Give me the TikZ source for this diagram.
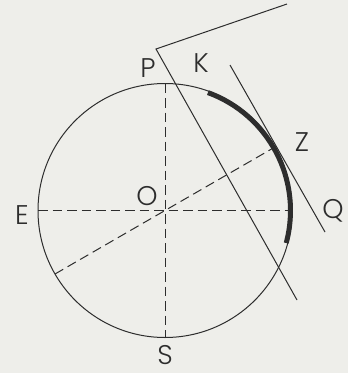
\documentclass[tikz,border=0pt]{standalone}
\usepackage{fontspec}
\setmainfont{Poppins}[UprightFont=* Light]
\definecolor{bg}{RGB}{238,238,234}
\definecolor{ink}{RGB}{45,45,45}
\begin{document}
\begin{tikzpicture}[x=1pt,y=-1pt,
  thinline/.style={draw=ink,line width=1pt},
  dashline/.style={draw=ink,line width=1pt,dash pattern=on 9.5pt off 5pt},
  thickarc/.style={draw=ink,line width=5pt},
  lbl/.style={text=ink,font=\fontsize{27}{27}\selectfont,inner sep=0pt,anchor=center}]
\fill[bg] (0,0) rectangle (348,373);
\useasboundingbox (0,0) rectangle (348,373);
% key points
\coordinate (O) at (165,210.5);
\coordinate (Eend) at (38,210.5);
\coordinate (Rend) at (292,210.5);
\coordinate (Tend) at (165,83.5);
\coordinate (Bend) at (165,337.5);
\coordinate (D1) at (55,274);
\coordinate (D2) at (275,147);
\coordinate (Pc) at (156,49);
\coordinate (Pu) at (287,4);
\coordinate (Pd) at (297,300);
\coordinate (Ta) at (230,65);
\coordinate (Tb) at (325,232);
\coordinate (A1) at (207.9,92.6);
% circle
\draw[thinline] (O) circle[radius=127];
% dashed diameters
\draw[dashline] (Eend) -- (Rend);
\draw[dashline] (Tend) -- (Bend);
\draw[dashline] (D1) -- (D2);
% thick arc
\draw[thickarc] (A1) arc[start angle=-70,end angle=15,radius=125.5];
% lines
\draw[thinline] (Pu) -- (Pc) -- (Pd);
\draw[thinline] (Ta) -- (Tb);
% labels
\node[lbl] (P) at (148,68) {P};
\node[lbl] (K) at (201,63) {K};
\node[lbl] (Z) at (302,142) {Z};
\node[lbl] (Q) at (333,211) {Q};
\node[lbl] (Olbl) at (147,196) {O};
\node[lbl] (E) at (22,215) {E};
\node[lbl] (S) at (165,355) {S};
\end{tikzpicture}
\end{document}
